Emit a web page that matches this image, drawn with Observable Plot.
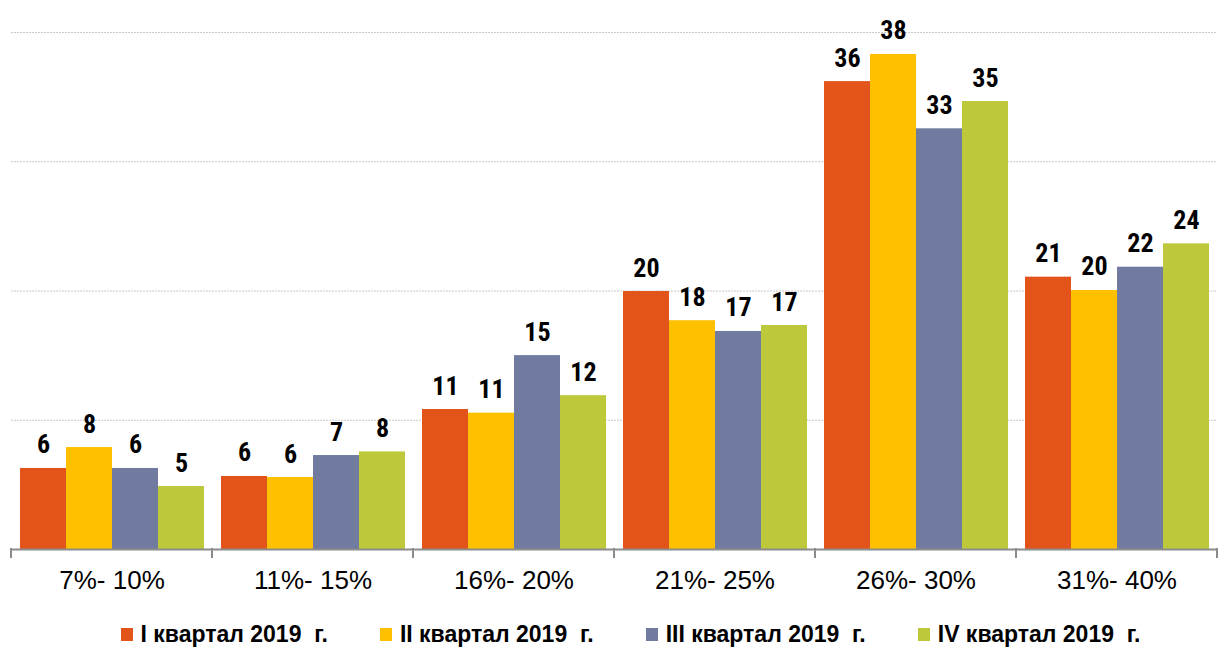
<!DOCTYPE html>
<html>
<head>
<meta charset="utf-8">
<script src="https://cdn.jsdelivr.net/npm/d3@7"></script>
<script src="https://cdn.jsdelivr.net/npm/@observablehq/plot@0.6"></script>
<style>
  html, body { margin: 0; padding: 0; background: #fff; }
  #chart svg { display: block; }
  .legend { display: flex; justify-content: center; align-items: center; height: 38px; padding-top: 5px; padding-left: 42px;
    font-family: "Liberation Sans", Arial, sans-serif; font-weight: bold; font-size: 23px; color: #000; }
  .legend .item { display: flex; align-items: center; margin: 0 26px; white-space: pre; }
  .legend .sw { width: 12px; height: 13px; margin-right: 8px; }
</style>
</head>
<body>
<div id="chart"></div>
<div class="legend" id="legend"></div>
<script>
const categories = ["7%- 10%", "11%- 15%", "16%- 20%", "21%- 25%", "26%- 30%", "31%- 40%"];
const quarters = ["I квартал 2019  г.", "II квартал 2019  г.", "III квартал 2019  г.", "IV квартал 2019  г."];
const colors = ["#E2541A", "#FFC000", "#717BA0", "#BDC93A"];
const q1 = [6.27, 5.65, 10.83, 19.96, 36.2, 21.07];
const q2 = [7.89, 5.57, 10.55, 17.7, 38.3, 20.04];
const q3 = [6.27, 7.27, 15.0, 16.87, 32.55, 21.84];
const q4 = [4.87, 7.55, 11.9, 17.33, 34.66, 23.65];
const gridTicks = [10, 20, 30, 40];

const series = [q1, q2, q3, q4];
const data = [];
categories.forEach((c, i) => quarters.forEach((q, j) => data.push({cat: c, q, value: series[j][i]})));

const chart = Plot.plot({
  width: 1219,
  height: 610,
  marginTop: 32,
  marginBottom: 61,
  marginLeft: 11,
  marginRight: 2,
  style: {fontFamily: "'Liberation Sans', Arial, sans-serif", fontSize: "24px", color: "#000", background: "#fff"},
  fx: {domain: categories, padding: 0},
  x: {domain: quarters, paddingInner: 0, paddingOuter: 0.16, axis: null},
  y: {domain: [0, 40], axis: null},
  color: {domain: quarters, range: colors},
  marks: [
    Plot.gridY(gridTicks, {stroke: "#c8c8c8", strokeOpacity: 1, strokeWidth: 1, strokeDasharray: "2,1"}),
    Plot.barY(data, {fx: "cat", x: "q", y: "value", fill: "q"}),
    Plot.ruleY([0], {stroke: "#8c8c8c", strokeWidth: 2}),
    Plot.text(data, {fx: "cat", x: "q", y: "value", text: d => d3.format(".0f")(d.value),
      lineAnchor: "bottom", dy: -15, fontWeight: "bold", fontSize: 26,
      fontFamily: "'Liberation Sans Narrow', 'Arial Narrow', 'Roboto Condensed', sans-serif", fill: "#000"}),
    Plot.axisFx({anchor: "bottom", tickSize: 0, tickPadding: 21, fontSize: 26, label: null})
  ]
});
document.getElementById("chart").appendChild(chart);

// boundary tick marks of the category axis, placed with the fx scale
const fx = chart.scale("fx");
const edges = fx.domain.map(d => fx.apply(d)).concat([fx.apply(fx.domain[fx.domain.length - 1]) + fx.bandwidth]);
const y0 = chart.scale("y").apply(0);
d3.select(chart).append("g").selectAll("line").data(edges).join("line")
  .attr("x1", d => d).attr("x2", d => d)
  .attr("y1", y0 - 1).attr("y2", y0 + 9)
  .attr("stroke", "#8c8c8c").attr("stroke-width", 2);

const legend = d3.select("#legend");
quarters.forEach((q, i) => {
  const it = legend.append("div").attr("class", "item");
  it.append("div").attr("class", "sw").style("background", colors[i]);
  it.append("span").text(q);
});
</script>
</body>
</html>
